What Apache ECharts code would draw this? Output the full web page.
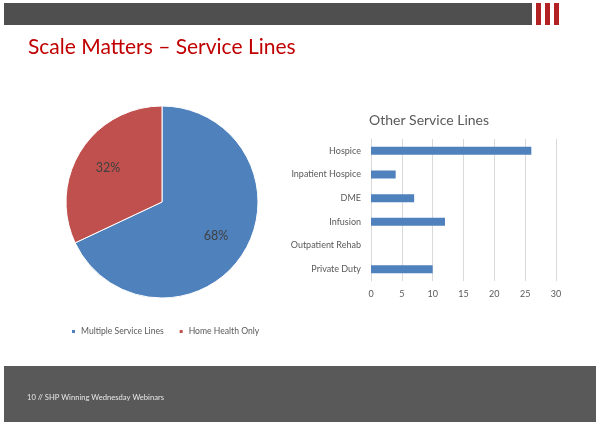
<!DOCTYPE html>
<html><head><meta charset="utf-8">
<script src="https://cdn.jsdelivr.net/npm/echarts@6/dist/echarts.min.js"></script>
<style>html,body{margin:0;padding:0;background:#fff}#c{width:596px;height:424px}</style>
</head><body><div id="c"></div>
<script>
const pieNames = ['Multiple Service Lines', 'Home Health Only'];
const pieValues = [68, 32];
const barCategories = ['Hospice', 'Inpatient Hospice', 'DME', 'Infusion', 'Outpatient Rehab', 'Private Duty'];
const barValues = [26, 4, 7, 12, 0, 10];
const xTicks = [0, 5, 10, 15, 20, 25, 30];

const chart = echarts.init(document.getElementById('c'), null, {renderer: 'canvas'});
const pieData = pieNames.map((n, i) => ({name: n, value: pieValues[i]}));
const font = 'Lato, "Open Sans", sans-serif';
chart.setOption({
  animation: false,
  color: ['#4f81bd', '#c0504d'],
  title: [
    {text: 'Scale Matters – Service Lines', left: 23, top: 32,
     textStyle: {color: '#c00000', fontSize: 21, fontWeight: 'normal', fontFamily: font}},
    {text: 'Other Service Lines', left: 364, top: 108,
     textStyle: {color: '#595959', fontSize: 14, fontWeight: 'normal', fontFamily: font}}
  ],
  graphic: [
    {type: 'rect', shape: {x: 4, y: 3, width: 528, height: 22}, style: {fill: '#4f4f4f'}},
    {type: 'rect', shape: {x: 536, y: 3, width: 5, height: 22}, style: {fill: '#b22222'}},
    {type: 'rect', shape: {x: 545, y: 3, width: 5, height: 22}, style: {fill: '#b22222'}},
    {type: 'rect', shape: {x: 554, y: 3, width: 5, height: 22}, style: {fill: '#b22222'}},
    {type: 'rect', shape: {x: 4, y: 366, width: 592, height: 56}, style: {fill: '#595959'}},
    {type: 'text', left: 27, top: 394, style: {text: '10 // SHP Winning Wednesday Webinars', fill: '#e6e6e6', font: '7.6px ' + font}}
  ],
  legend: {
    data: pieNames, left: 65, top: 322, itemWidth: 5, itemHeight: 5, itemGap: 14,
    icon: 'rect', textStyle: {color: '#595959', fontSize: 8.6, fontFamily: font}
  },
  grid: {left: 371, right: 40, top: 139, bottom: 143},
  xAxis: {
    type: 'value', min: 0, max: 30, interval: 5,
    axisLine: {show: false}, axisTick: {show: false},
    splitLine: {lineStyle: {color: '#d9d9d9'}},
    axisLabel: {color: '#595959', fontSize: 9, fontFamily: font, margin: 9,
      formatter: v => xTicks.includes(v) ? String(v) : ''}
  },
  yAxis: {
    type: 'category', data: barCategories, inverse: true,
    axisLine: {lineStyle: {color: '#d9d9d9'}}, axisTick: {show: false},
    axisLabel: {color: '#595959', fontSize: 9, fontFamily: font, margin: 10}
  },
  series: [
    {type: 'pie', center: [162, 202], radius: 96, startAngle: 90, clockwise: true,
     data: pieData, itemStyle: {borderColor: '#fff', borderWidth: 1},
     label: {show: false}, labelLine: {show: false}},
    {type: 'pie', center: [162, 202], radius: 122, startAngle: 90, clockwise: true, silent: true,
     data: pieData, legendHoverLink: false,
     itemStyle: {color: 'rgba(0,0,0,0)'},
     label: {show: true, position: 'inside', formatter: '{d}%', color: '#404040', fontSize: 12.5, fontFamily: font},
     labelLine: {show: false}, z: 3},
    {type: 'bar', data: barValues, barWidth: 8, itemStyle: {color: '#4f81bd'}}
  ]
});
</script></body></html>
